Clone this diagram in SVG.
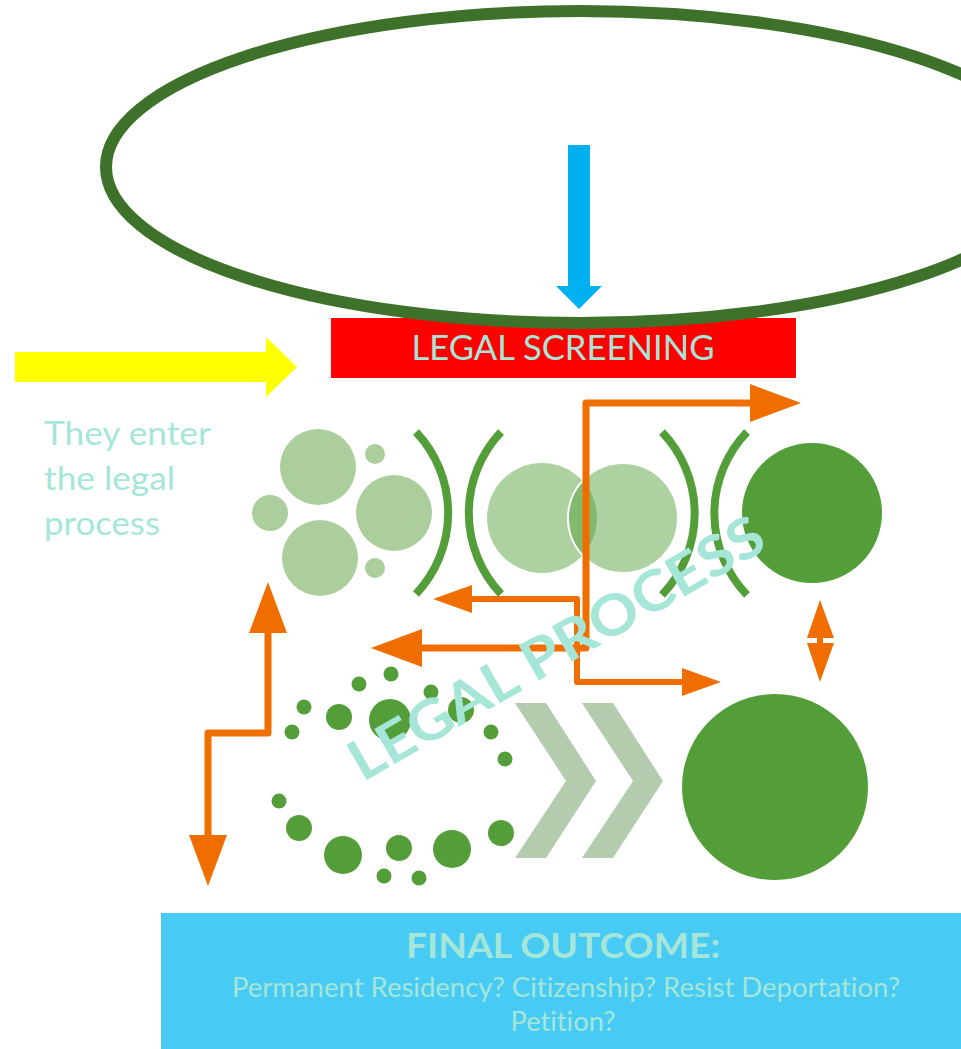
<svg xmlns="http://www.w3.org/2000/svg" width="961" height="1049" viewBox="0 0 961 1049">
<style>
.txt{font-family:Lato,"Open Sans","Liberation Sans",sans-serif;fill:#A5E6D8;font-variant-ligatures:none}
.light{fill:#ABCE9C}
.dark{fill:#549E39}
.arc{fill:none;stroke:#549E39;stroke-width:8}
.chev{fill:#B4CCAE}
.orange{fill:none;stroke:#F06E00;stroke-linejoin:round}
</style>
<defs>
<marker id="headL" markerUnits="userSpaceOnUse" markerWidth="51" markerHeight="38" refX="0" refY="19" orient="auto-start-reverse" viewBox="0 0 51 38">
<path d="M0,0 L51,19 L0,38 z" fill="#F06E00"/>
</marker>
<marker id="headS" markerUnits="userSpaceOnUse" markerWidth="39" markerHeight="28" refX="0" refY="14" orient="auto-start-reverse" viewBox="0 0 39 28">
<path d="M0,0 L39,14 L0,28 z" fill="#F06E00"/>
</marker>
</defs>
<rect width="961" height="1049" fill="#ffffff"/>

<g id="legal-screening">
<rect x="331" y="318" width="465" height="60" fill="#FF0000"/>
<text class="txt" x="563" y="360" font-size="34" text-anchor="middle" textLength="303" lengthAdjust="spacingAndGlyphs">LEGAL SCREENING</text>
</g>

<g id="entry-ellipse">
<ellipse cx="580" cy="167" rx="474" ry="156" fill="none" stroke="#3E722A" stroke-width="12"/>
</g>

<g id="blue-arrow">
<polygon points="568,145 590,145 590,286 602,286 579,309 556,286 568,286" fill="#00B0F0"/>
</g>

<g id="yellow-arrow">
<polygon points="15,352 266,352 266,337 297,367 266,397 266,382 15,382" fill="#FFFF00"/>
</g>

<g id="enter-label">
<text class="txt" font-size="33">
<tspan x="44" y="445" textLength="166" lengthAdjust="spacingAndGlyphs">They enter</tspan>
<tspan x="44" y="490" textLength="131" lengthAdjust="spacingAndGlyphs">the legal</tspan>
<tspan x="44" y="535" textLength="116" lengthAdjust="spacingAndGlyphs">process</tspan>
</text>
</g>

<g id="cluster-left">
<circle class="light" cx="318" cy="467" r="38"/>
<circle class="light" cx="375" cy="454" r="10"/>
<circle class="light" cx="270" cy="513" r="18"/>
<circle class="light" cx="394" cy="513" r="38"/>
<circle class="light" cx="320" cy="558" r="38"/>
<circle class="light" cx="375" cy="568" r="10"/>
</g>

<g id="arcs-left">
<path class="arc" d="M416,432 A118,118 0 0 1 416,594"/>
<path class="arc" d="M501,432 A118,118 0 0 0 501,594"/>
</g>

<g id="overlap-circles">
<circle cx="542" cy="518" r="55" fill="#549E39" fill-opacity="0.48"/>
<circle cx="623" cy="518" r="55" fill="#549E39" fill-opacity="0.48" stroke="#ffffff" stroke-width="2"/>
</g>

<g id="arcs-right">
<path class="arc" d="M662,432 A118,118 0 0 1 662,595"/>
<path class="arc" d="M747,432 A118,118 0 0 0 747,595"/>
</g>

<g id="circle-right">
<circle class="dark" cx="812" cy="513" r="70"/>
</g>

<g id="circle-bottom-right">
<circle class="dark" cx="775" cy="787" r="93"/>
</g>

<g id="dot-ring">
<circle class="dark" cx="391" cy="674" r="7.5"/>
<circle class="dark" cx="359" cy="684" r="7.5"/>
<circle class="dark" cx="431" cy="692" r="7.5"/>
<circle class="dark" cx="304" cy="707" r="7.5"/>
<circle class="dark" cx="339" cy="717" r="13"/>
<circle class="dark" cx="390" cy="720" r="21"/>
<circle class="dark" cx="461" cy="710" r="13"/>
<circle class="dark" cx="292" cy="732" r="7.5"/>
<circle class="dark" cx="491" cy="732" r="7.5"/>
<circle class="dark" cx="505" cy="759" r="7.5"/>
<circle class="dark" cx="279" cy="801" r="7.5"/>
<circle class="dark" cx="299" cy="828" r="13"/>
<circle class="dark" cx="343" cy="855" r="19"/>
<circle class="dark" cx="399" cy="848" r="13"/>
<circle class="dark" cx="452" cy="849" r="19"/>
<circle class="dark" cx="501" cy="833" r="13"/>
<circle class="dark" cx="384" cy="876" r="7.5"/>
<circle class="dark" cx="419" cy="878" r="7.5"/>
</g>

<g id="chevrons">
<polygon class="chev" points="515,703 546,703 596,781 546,858 515,858 566,781"/>
<polygon class="chev" points="582,703 613,703 663,781 613,858 582,858 633,781"/>
</g>

<g id="connectors">
<path class="orange" stroke-width="7" d="M422,648 H586 V403 H750" marker-start="url(#headL)" marker-end="url(#headL)"/>
<path class="orange" stroke-width="6" d="M472,599 H577 V682 H682" marker-start="url(#headS)" marker-end="url(#headS)"/>
<path class="orange" stroke-width="7" d="M268,633 V733 H208 V835" marker-start="url(#headL)" marker-end="url(#headL)"/>
<g fill="#F06E00">
<polygon points="820,600 834,638 807,638"/>
<rect x="817" y="638" width="6" height="5"/>
<polygon points="807,643 834,643 820,682"/>
</g>
</g>

<g id="legal-process-label">
<text class="txt" x="566" y="665" font-size="56" font-weight="bold" text-anchor="middle" transform="rotate(-30 566 665)" textLength="470" lengthAdjust="spacingAndGlyphs">LEGAL PROCESS</text>
</g>

<g id="final-outcome">
<rect x="161" y="913" width="800" height="136" fill="#47CBF5"/>
<text class="txt" x="563" y="958" font-size="34" font-weight="bold" text-anchor="middle" textLength="314" lengthAdjust="spacingAndGlyphs">FINAL OUTCOME:</text>
<text class="txt" x="566" y="997" font-size="26" text-anchor="middle" textLength="668" lengthAdjust="spacingAndGlyphs">Permanent Residency? Citizenship? Resist Deportation?</text>
<text class="txt" x="563" y="1031" font-size="26" text-anchor="middle" textLength="105" lengthAdjust="spacingAndGlyphs">Petition?</text>
</g>
</svg>
